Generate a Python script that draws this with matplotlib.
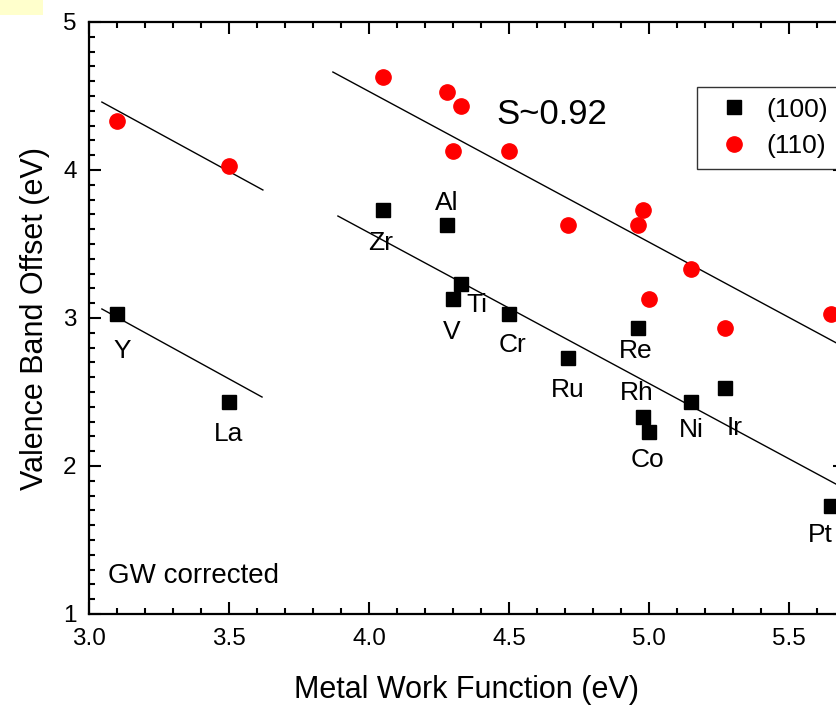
import numpy as np
import matplotlib.pyplot as plt
from matplotlib.patches import Rectangle
from matplotlib.ticker import MultipleLocator

plt.rcParams['font.family'] = ['Liberation Sans', 'DejaVu Sans']

# metals, work function (eV) and valence band offsets (eV)
metals = ['Y', 'La', 'Zr', 'Al', 'Ti', 'V', 'Cr', 'Ru', 'Re', 'Rh', 'Co', 'Ni', 'Ir', 'Pt']
wf = np.array([3.10, 3.50, 4.05, 4.28, 4.33, 4.30, 4.50, 4.71, 4.96, 4.98, 5.00, 5.15, 5.27, 5.65])
vbo_100 = np.array([3.03, 2.43, 3.73, 3.63, 3.23, 3.13, 3.03, 2.73, 2.93, 2.33, 2.23, 2.43, 2.53, 1.73])
vbo_110 = np.array([4.33, 4.03, 4.63, 4.53, 4.43, 4.13, 4.13, 3.63, 3.63, 3.73, 3.13, 3.33, 2.93, 3.03])

# label positions for each metal
lab_x = [3.118, 3.50, 4.043, 4.279, 4.386, 4.296, 4.511, 4.711, 4.954, 4.957, 4.993, 5.15, 5.307, 5.611]
lab_y = [2.78, 2.216, 3.507, 3.777, 3.088, 2.905, 2.818, 2.514, 2.777, 2.493, 2.04, 2.243, 2.257, 1.534]

# fit lines (endpoints)
fit_lo_left_x = [3.046, 3.618]
fit_lo_left_y = [3.061, 2.466]
fit_hi_left_x = [3.046, 3.621]
fit_hi_left_y = [4.459, 3.865]
fit_lo_x = [3.889, 5.70]
fit_lo_y = [3.689, 1.845]
fit_hi_x = [3.871, 5.70]
fit_hi_y = [4.662, 2.80]

fig = plt.figure(figsize=(8.36, 7.05), dpi=100)
fig.patches.append(Rectangle((0, 705 - 15), 43, 15, transform=None,
                             facecolor='#ffffcc', edgecolor='none'))
ax = fig.add_axes([89/836, 91/705, 756/836, 592/705])

for xs, ys in [(fit_lo_left_x, fit_lo_left_y), (fit_hi_left_x, fit_hi_left_y),
               (fit_lo_x, fit_lo_y), (fit_hi_x, fit_hi_y)]:
    ax.plot(xs, ys, color='black', linewidth=1.0)

ax.plot(wf, vbo_100, 's', color='black', markersize=9.5, label='(100)', linestyle='none')
ax.plot(wf, vbo_110, 'o', color='red', markersize=11, label='(110)', linestyle='none')

for name, lx, ly in zip(metals, lab_x, lab_y):
    ax.text(lx, ly, name, fontsize=19, ha='center', va='center')

ax.text(4.654, 4.378, 'S~0.92', fontsize=25, ha='center', va='center')
ax.text(3.068, 1.257, 'GW corrected', fontsize=20, ha='left', va='center')

ax.set_xlim(3.0, 5.7)
ax.set_ylim(1, 5)
ax.xaxis.set_major_locator(MultipleLocator(0.5))
ax.xaxis.set_minor_locator(MultipleLocator(0.1))
ax.yaxis.set_major_locator(MultipleLocator(1))
ax.yaxis.set_minor_locator(MultipleLocator(0.1))
ax.xaxis.set_major_formatter(plt.FormatStrFormatter('%.1f'))
ax.tick_params(which='both', direction='in', top=True, right=True, width=1.5)
ax.tick_params(which='major', length=8.5, labelsize=17.5)
ax.tick_params(axis='x', which='major', pad=10)
ax.tick_params(axis='y', which='major', pad=9)
ax.tick_params(which='minor', length=4.5)
for s in ax.spines.values():
    s.set_linewidth(1.6)

ax.set_xlabel('Metal Work Function (eV)', fontsize=22, labelpad=18)
ax.set_ylabel('Valence Band Offset (eV)', fontsize=22, labelpad=9)

leg = ax.legend(loc='upper left', bbox_to_anchor=(0.804, 0.89), fontsize=19,
                frameon=True, fancybox=False, handletextpad=0.22, borderpad=0.4,
                labelspacing=0.47, handlelength=2.0, borderaxespad=0)
leg.get_frame().set_edgecolor('black')
leg.get_frame().set_linewidth(1.0)

plt.savefig('out.png', dpi=100)
